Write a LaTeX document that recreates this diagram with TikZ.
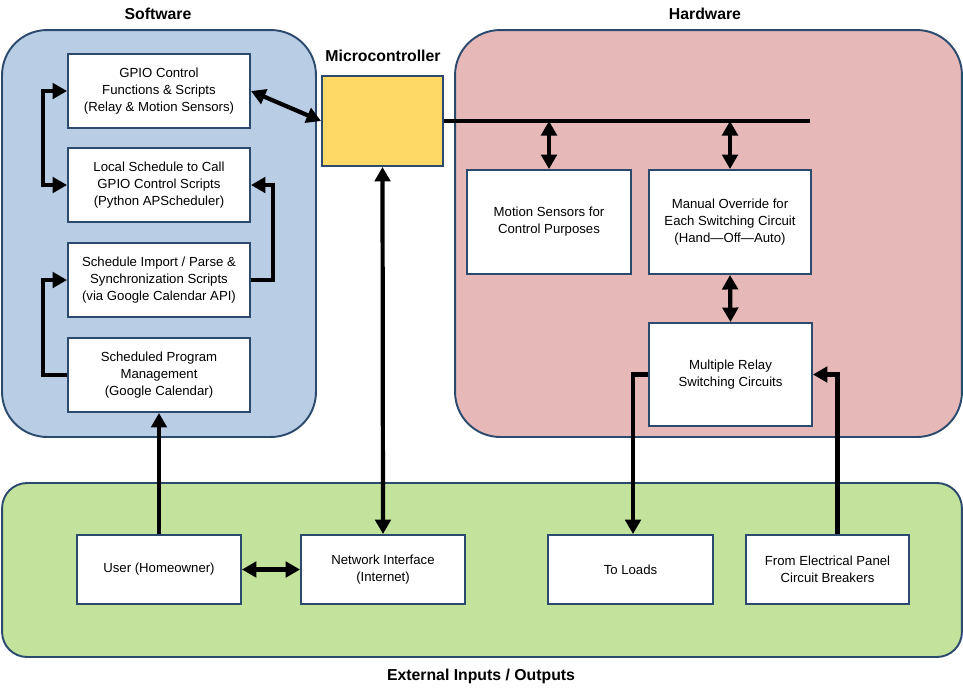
\documentclass[tikz,border=0pt]{standalone}
\usepackage{fontspec}
\setmainfont{Liberation Sans}
\usepackage{tikz}
\usetikzlibrary{arrows.meta, positioning, calc}
\usepackage{xcolor}
\definecolor{softblue}{HTML}{B9CDE5}
\definecolor{hardred}{HTML}{E6B9B8}
\definecolor{extgreen}{HTML}{C3E29B}
\definecolor{mcuyellow}{HTML}{FFD966}
\definecolor{edgeblue}{HTML}{2C4A6E}

\begin{document}
\begin{tikzpicture}[x=0.02cm, y=-0.02cm,
    panel/.style={rectangle, rounded corners=0.9cm, draw=edgeblue, line width=1.1pt},
    block/.style={rectangle, draw=edgeblue, fill=white, line width=1.1pt, align=center, inner sep=2pt,
        font=\fontsize{7.5}{9.6}\selectfont},
    title/.style={font=\fontsize{9}{11}\selectfont\bfseries},
    link/.style={line width=2.4pt, {Triangle[length=0.29cm,width=0.31cm]}-{Triangle[length=0.29cm,width=0.31cm]}},
    onelink/.style={line width=2.4pt, -{Triangle[length=0.29cm,width=0.31cm]}},
    bus/.style={line width=2.4pt}]
\useasboundingbox (0,0) rectangle (963,698);
% background panels
\node[panel, fill=softblue, minimum width=6.28cm, minimum height=8.14cm] (soft) at (159,233.5) {};
\node[panel, fill=hardred, minimum width=10.14cm, minimum height=8.14cm] (hard) at (708.5,233.5) {};
\node[panel, fill=extgreen, rounded corners=0.5cm, minimum width=19.2cm, minimum height=3.48cm] (ext) at (482,570) {};
\node[title] (softlbl) at (158,14) {Software};
\node[title] (hardlbl) at (705,14) {Hardware};
\node[title] (mculbl) at (383,56) {Microcontroller};
\node[title] (extlbl) at (481,676) {External Inputs / Outputs};
% software blocks
\node[block, minimum width=3.64cm, minimum height=1.48cm] (gpio) at (159,91) {GPIO Control\\Functions \& Scripts\\(Relay \& Motion Sensors)};
\node[block, minimum width=3.64cm, minimum height=1.48cm] (local) at (159,185) {Local Schedule to Call\\GPIO Control Scripts\\(Python APScheduler)};
\node[block, minimum width=3.64cm, minimum height=1.48cm] (import) at (159,280) {Schedule Import / Parse \&\\Synchronization Scripts\\(via Google Calendar API)};
\node[block, minimum width=3.64cm, minimum height=1.48cm] (sched) at (159,375) {Scheduled Program\\Management\\(Google Calendar)};
% microcontroller
\node[block, fill=mcuyellow, minimum width=2.42cm, minimum height=1.8cm] (mcu) at (382.5,121) {};
% hardware blocks
\node[block, minimum width=3.28cm, minimum height=2.08cm] (motion) at (549,222) {Motion Sensors for\\Control Purposes};
\node[block, minimum width=3.24cm, minimum height=2.08cm] (manual) at (730,222) {Manual Override for\\Each Switching Circuit\\(Hand---Off---Auto)};
\node[block, minimum width=3.26cm, minimum height=2.06cm] (relay) at (730.5,374.5) {Multiple Relay\\Switching Circuits};
% external blocks
\node[block, minimum width=3.28cm, minimum height=1.38cm] (user) at (159,569.5) {User (Homeowner)};
\node[block, minimum width=3.28cm, minimum height=1.38cm] (net) at (383,569.5) {Network Interface\\(Internet)};
\node[block, minimum width=3.3cm, minimum height=1.38cm] (loads) at (630.5,569.5) {To Loads};
\node[block, minimum width=3.26cm, minimum height=1.38cm] (panelin) at (827.5,569.5) {From Electrical Panel\\Circuit Breakers};
\coordinate (busend) at (810,121);
% connectors
\draw[link] (gpio.west) -- ++(-24,0) |- (local.west);
\draw[onelink] (import.east) -- ++(22,0) |- (local.east);
\draw[onelink] (sched.west) -- ++(-24,0) |- (import.west);
\draw[onelink] (user.north) -- (sched.south);
\draw[link] (gpio.east) -- (mcu.west);
\draw[link] (mcu.south) -- (net.north);
\draw[link] (user.east) -- (net.west);
\draw[bus] (mcu.east) -- (busend);
\draw[link] (motion.north |- busend) -- (motion.north);
\draw[link] (manual.north |- busend) -- (manual.north);
\draw[link] (manual.south) -- (relay.north);
\draw[onelink] (relay.west) -| ([xshift=0.05cm]loads.north);
\draw[onelink] ([xshift=0.2cm]panelin.north) |- (relay.east);
\end{tikzpicture}
\end{document}
